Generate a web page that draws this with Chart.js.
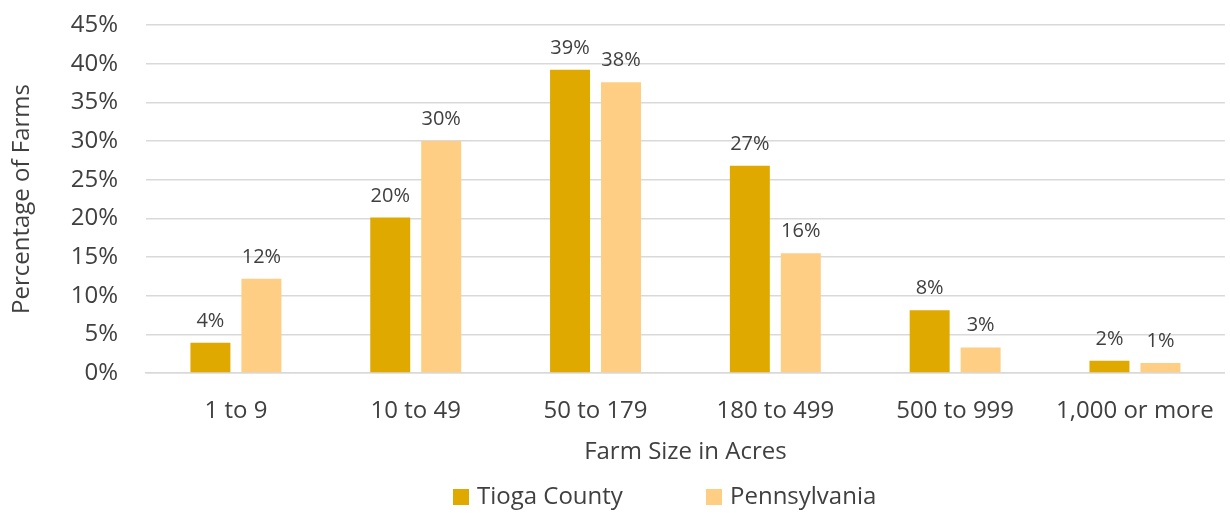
<!DOCTYPE html>
<html>
<head>
<meta charset="utf-8">
<script src="https://cdn.jsdelivr.net/npm/chart.js@4"></script>
<style>
  html, body { margin: 0; padding: 0; background: #ffffff; }
  #wrap { width: 1230px; height: 513px; }
</style>
</head>
<body>
<div id="wrap"><canvas id="farmChart" width="1230" height="513"></canvas></div>
<script>
// Farm size categories (x axis)
const categories = ['1 to 9', '10 to 49', '50 to 179', '180 to 499', '500 to 999', '1,000 or more'];

// Percentage of farms in each size class
const tiogaValues = [3.9, 20.1, 39.2, 26.8, 8.1, 1.6];
const pennValues = [12.2, 30.0, 37.6, 15.5, 3.3, 1.3];

// y axis ticks, in percent
const yTicks = [0, 5, 10, 15, 20, 25, 30, 35, 40, 45];

const FONT = '"Open Sans", "Noto Sans", sans-serif';
const TEXT = '#404040';

// Writes the rounded value above each bar
const valueLabels = {
    id: 'valueLabels',
    afterDatasetsDraw(chart) {
        const c = chart.ctx;
        c.save();
        c.font = '20px ' + FONT;
        c.fillStyle = TEXT;
        c.textAlign = 'center';
        c.textBaseline = 'alphabetic';
        chart.data.datasets.forEach((ds, i) => {
            chart.getDatasetMeta(i).data.forEach((bar, j) => {
                c.fillText(Math.round(ds.data[j]) + '%', bar.x, bar.y - 16);
            });
        });
        c.restore();
    }
};

// Legend drawn at the bottom, items spaced like the original
const bottomLegend = {
    id: 'bottomLegend',
    afterDraw(chart) {
        const c = chart.ctx;
        const xs = [453, 706];   // left edge of each legend square
        const y = 497;
        c.save();
        c.font = '24px ' + FONT;
        c.textBaseline = 'middle';
        c.textAlign = 'left';
        chart.data.datasets.forEach((ds, i) => {
            c.fillStyle = ds.backgroundColor;
            c.fillRect(xs[i], y - 8, 16, 16);
            c.fillStyle = TEXT;
            c.fillText(ds.label, xs[i] + 24, y);
        });
        c.restore();
    }
};

const ctx = document.getElementById('farmChart').getContext('2d');

new Chart(ctx, {
    type: 'bar',
    data: {
        labels: categories,
        datasets: [
            {
                label: 'Tioga County',
                data: tiogaValues,
                backgroundColor: '#E0A900',
                categoryPercentage: 0.567,
                barPercentage: 0.784
            },
            {
                label: 'Pennsylvania',
                data: pennValues,
                backgroundColor: '#FFCE85',
                categoryPercentage: 0.567,
                barPercentage: 0.784
            }
        ]
    },
    options: {
        responsive: false,
        animation: false,
        layout: { autoPadding: false, padding: { left: 0, right: 2, top: 25, bottom: 0 } },
        plugins: {
            legend: { display: false },
            tooltip: { enabled: false }
        },
        scales: {
            x: {
                grid: { display: false },
                border: { color: '#d9d9d9', width: 1.5 },
                ticks: { font: { family: FONT, size: 24 }, color: TEXT, padding: 16 },
                afterFit: axis => { axis.height = 140; },
                title: {
                    display: true,
                    text: 'Farm Size in Acres',
                    font: { family: FONT, size: 24 },
                    color: TEXT,
                    padding: { top: 4, bottom: 46 }
                }
            },
            y: {
                min: 0,
                max: 45,
                afterBuildTicks: axis => { axis.ticks = yTicks.map(v => ({ value: v })); },
                // fixed width; tick padding must not push the plot area down
                afterFit: axis => {
                    axis.width = 146;
                    axis.paddingTop = 0;
                    axis.paddingBottom = 0;
                },
                grid: { color: '#d9d9d9', lineWidth: 1.5, drawTicks: false },
                border: { display: false },
                ticks: {
                    font: { family: FONT, size: 24 },
                    color: TEXT,
                    padding: 28,
                    callback: v => v + '%'
                },
                title: {
                    display: true,
                    text: 'Percentage of Farms',
                    font: { family: FONT, size: 24 },
                    color: TEXT,
                    padding: { top: 8, bottom: 0 }
                }
            }
        }
    },
    plugins: [valueLabels, bottomLegend]
});
</script>
</body>
</html>
